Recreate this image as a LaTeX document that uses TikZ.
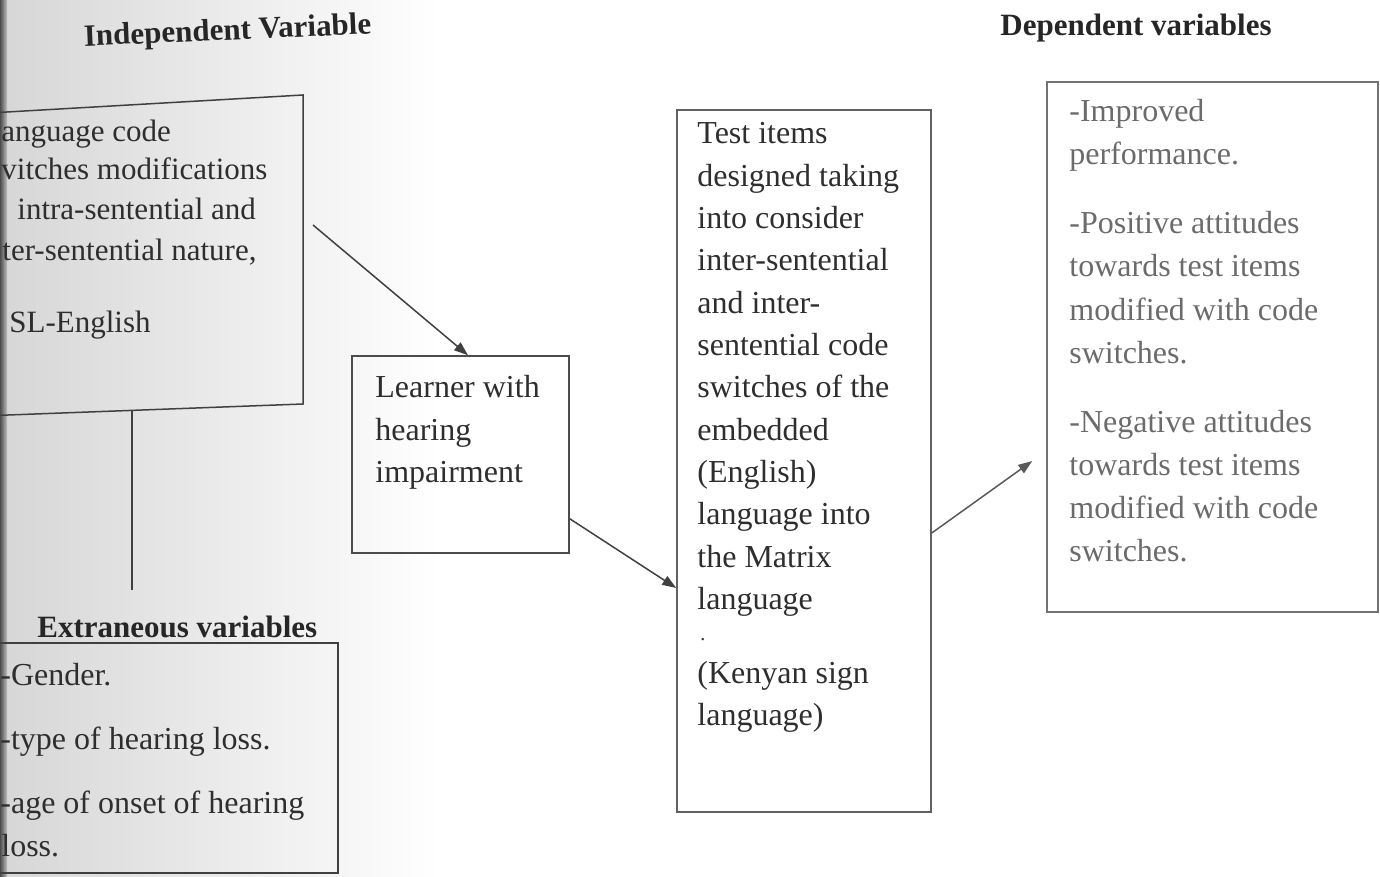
\documentclass[tikz,border=0pt]{standalone}
\usepackage{fontspec}
\setmainfont{Liberation Serif}
\usetikzlibrary{arrows.meta,calc}
\begin{document}
\begin{tikzpicture}[x=0.5pt,y=-0.5pt,
  txt/.style={anchor=base west, inner sep=0pt, font=\fontsize{16}{20}\selectfont, text=black!82},
  ltxt/.style={txt, font=\fontsize{15.5}{20}\selectfont},
  rtxt/.style={txt, text=black!58},
  head/.style={anchor=base west, inner sep=0pt, font=\fontsize{15.5}{20}\selectfont\bfseries, text=black!85},
  rect/.style={draw=#1, line width=0.75pt, rectangle, inner sep=0pt},
  edge/.style={draw=black!75, line width=0.75pt},
  arr/.style={draw=black!75, line width=0.75pt, -{Triangle[length=7pt,width=5pt]}}
]
\useasboundingbox (0,0) rectangle (1380,877);
% scan background
\fill[left color=black!16, right color=white] (0,0) rectangle (440,877);
\fill[left color=black!70, right color=black!25] (0,0) rectangle (7,877);

% headings
\node[head, anchor=base, rotate=2.5] (hind) at (228,40) {Independent Variable};
\node[head] (hdep) at (1000,36) {Dependent variables};
\node[head] (hext) at (37,637) {Extraneous variables};

% independent variable box (cut by page edge)
\coordinate (ivtl) at (0,112.4);
\coordinate (ivtr) at (303,95);
\coordinate (ivbr) at (303,404);
\coordinate (ivbl) at (0,415.3);
\draw[edge] (ivtl) -- (ivtr) -- (ivbr) -- (ivbl);
\node[ltxt] (iv1) at (1,142) {anguage code};
\node[ltxt] (iv2) at (1,180) {vitches modifications};
\node[ltxt] (iv3) at (17,220) {intra-sentential and};
\node[ltxt] (iv4) at (2,261) {ter-sentential nature,};
\node[ltxt] (iv5) at (9,332) {SL-English};

% link to extraneous variables
\coordinate (ivlink) at (132,410.5);
\coordinate (exlink) at (132,590);
\draw[edge] (ivlink) -- (exlink);

% extraneous variables box (cut by page edge)
\coordinate (extl) at (0,643);
\coordinate (extr) at (338,643);
\coordinate (exbr) at (338,873);
\coordinate (exbl) at (0,873);
\draw[edge] (extl) -- (extr) -- (exbr) -- (exbl);
\node[txt] (ex1) at (0,685) {-Gender.};
\node[txt] (ex2) at (0,749) {-type of hearing loss.};
\node[txt] (ex3) at (0,813) {-age of onset of hearing};
\node[txt] (ex4) at (1,856) {loss.};

% learner box
\node[rect=black!70, minimum width=108.5pt, minimum height=98.5pt] (learner) at (460.5,454.5) {};
\node[txt] (le1) at (375,397) {Learner with};
\node[txt] (le2) at (375,440) {hearing};
\node[txt] (le3) at (375,482) {impairment};

% test items box
\node[rect=black!62, minimum width=127pt, minimum height=351pt] (test) at (804,461) {};
\foreach \t [count=\i] in {Test items, designed taking, into consider, inter-sentential, and inter-, sentential code, switches of the, embedded, (English), language into, the Matrix, language}
  \node[txt] (ti\i) at (697,{144+42.3*(\i-1)}) {\t};
\node[txt, font=\fontsize{10}{12}\selectfont] (tidot) at (700,640) {.};
\node[txt] (ti13) at (697,683) {(Kenyan sign};
\node[txt] (ti14) at (697,725) {language)};

% dependent variables box
\node[rect=black!55, minimum width=165.5pt, minimum height=265pt] (dep) at (1212.5,347) {};
\node[rtxt] (dv1) at (1069,122) {-Improved};
\node[rtxt] (dv2) at (1069,165) {performance.};
\node[rtxt] (dv3) at (1069,234) {-Positive attitudes};
\node[rtxt] (dv4) at (1069,277) {towards test items};
\node[rtxt] (dv5) at (1069,320) {modified with code};
\node[rtxt] (dv6) at (1069,363) {switches.};
\node[rtxt] (dv7) at (1069,432) {-Negative attitudes};
\node[rtxt] (dv8) at (1069,475) {towards test items};
\node[rtxt] (dv9) at (1069,518) {modified with code};
\node[rtxt] (dv10) at (1069,561) {switches.};

% arrows
\coordinate (a1s) at (313,225);
\draw[arr] (a1s) -- ([xshift=3.75pt]learner.north);
\draw[arr] ([yshift=17.5pt]learner.south east) -- ([yshift=-63.5pt]test.west);
\draw[arr, draw=black!65] ([yshift=-36pt]test.east) -- ([xshift=-7pt,yshift=-57pt]dep.west);
\end{tikzpicture}
\end{document}
